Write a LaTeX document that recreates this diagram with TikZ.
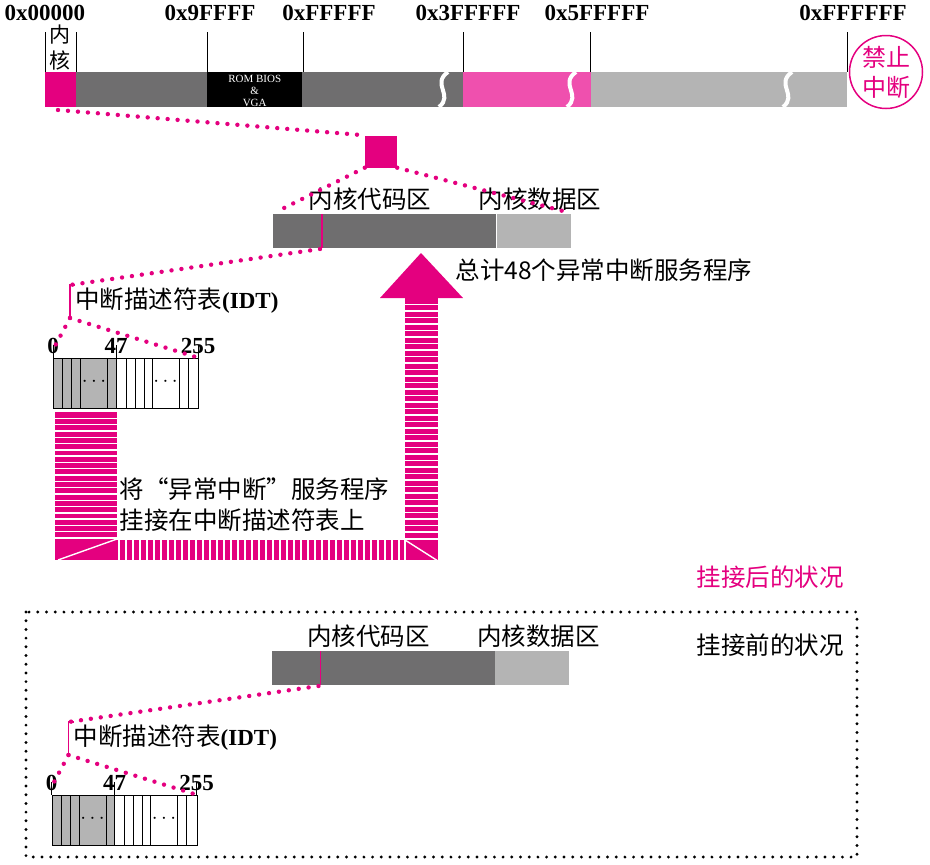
\documentclass[tikz,border=0pt]{standalone}
\usepackage{fontspec}
\setmainfont{Liberation Serif}
\newfontfamily\cjk{Noto Sans CJK SC}
\usetikzlibrary{calc}
\definecolor{mMagenta}{HTML}{E4007F}
\definecolor{mPink}{HTML}{EF50AE}
\definecolor{mDark}{HTML}{6F6E6F}
\definecolor{mLight}{HTML}{B4B4B4}
\tikzset{
  hexlbl/.style={font=\fontsize{23}{25}\selectfont\bfseries},
  cnlbl/.style={font=\fontsize{24.5}{31}\selectfont\cjk},
  numlbl/.style={font=\fontsize{23}{25}\selectfont\bfseries},
  dotline/.style={mMagenta, line width=4.4pt, line cap=round, dash pattern=on 0pt off 10pt},
  memtick/.style={line width=0.8pt},
  stripe/.style={white, line width=1.4pt},
}
\begin{document}
\begin{tikzpicture}[x=1pt, y=-1pt]
  \useasboundingbox (0,0) rectangle (930,865);
  % memory map
  \node[fill=mMagenta, minimum width=31pt, minimum height=35pt, inner sep=0, anchor=north west] (mkern) at (45,72) {};
  \fill[mDark] (76,72) rectangle (207,107);
  \node[fill=black, minimum width=95pt, minimum height=35pt, inner sep=0, anchor=north west] (mrom) at (207,72) {};
  \node[text=white, font=\fontsize{11}{12}\selectfont, align=center, inner sep=0] (romlbl) at ($(mrom.center)+(0,1)$) {ROM BIOS\\\&\\VGA};
  \fill[mDark] (302,72) rectangle (463,107);
  \fill[mPink] (463,72) rectangle (591,107);
  \fill[mLight] (591,72) rectangle (847,107);
  \foreach \bx in {443, 571, 787} {
    \draw[white, line width=4pt] (\bx+5,72) .. controls (\bx-12,84) and (\bx+11,95) .. (\bx-4,107);
  }
  \foreach \x in {45, 76, 207, 303, 463, 590, 847} {
    \draw[memtick] (\x,32) -- (\x,72);
  }
  \foreach \lbl/\x/\nm in {0x00000/45/a, 0x9FFFF/210/b, 0xFFFFF/329/c, 0x3FFFFF/468/d, 0x5FFFFF/597/e, 0xFFFFFF/853/f} {
    \node[hexlbl] (addr\nm) at (\x,13) {\lbl};
  }
  \node[cnlbl, font=\fontsize{21}{26}\selectfont\cjk, align=center, inner sep=0] (kernlbl) at (60,48) {内\\核};
  \node[draw=mMagenta, line width=1.5pt, circle, minimum size=73pt, inner sep=0, text=mMagenta,
        font=\fontsize{24}{30}\selectfont\cjk, align=center] (nointr) at (886,72) {禁止\\中断};

  % kernel zoom
  \node[fill=mMagenta, minimum size=32pt, inner sep=0] (ksq) at (381,151.5) {};
  \coordinate (kbot) at (58,110);
  \draw[dotline] (kbot) -- (ksq.north west);

  % after (upper) and before (lower)
  \foreach \dy/\k in {0/u, 437/l} {
    \begin{scope}[shift={(-1.5*\dy/437,\dy)}]
      \node[fill=mDark, minimum width=223pt, minimum height=34pt, inner sep=0, anchor=north west] (kcode\k) at (273,214) {};
      \node[fill=mLight, minimum width=74pt, minimum height=34pt, inner sep=0, anchor=north west] (kdata\k) at (kcode\k.north east) {};
      \draw[mMagenta, line width=1.6pt] (322,214) -- (322,248);
      \coordinate (entry\k) at (320,249);
      \node[cnlbl] (codelbl\k) at (370,199) {内核代码区};
      \node[cnlbl] (datalbl\k) at (540,199) {内核数据区};
      % IDT
      \coordinate (brtop\k) at (70,285);
      \coordinate (brbot\k) at (70,318);
      \draw[mMagenta, line width=1.2pt] (75,285) -- (brtop\k) -- (brbot\k);
      \node[cnlbl, anchor=west, inner sep=0] (idtlbl\k) at (75,301) {中断描述符表{\fontsize{23}{25}\selectfont\rmfamily\bfseries(IDT)}};
      \fill[mLight] (53,358) rectangle (116,408);
      \foreach \cx in {62.5, 71.5, 80.5, 107.5, 116, 126, 135, 144, 152, 179, 188} {
        \draw[line width=0.9pt] (\cx,358) -- (\cx,408);
      }
      \node[draw, line width=1pt, minimum width=145pt, minimum height=50pt, inner sep=0, anchor=north west] (idt\k) at (53,358) {};
      \node[font=\fontsize{20}{20}\selectfont] (dotsa\k) at (94,382) {$\cdots$};
      \node[font=\fontsize{20}{20}\selectfont] (dotsb\k) at (165.5,382) {$\cdots$};
      \foreach \x/\lbl/\nm in {53/0/n, 116/47/m, 198/255/x} {
        \draw[memtick] (\x,345) -- (\x,358);
        \node[numlbl] (num\nm\k) at (\x,346) {\lbl};
      }
      \draw[dotline] (entry\k) -- (brtop\k);
      \draw[dotline] (brbot\k) -- ($(idt\k.north west)+(2,-12)$);
      \draw[dotline] (brbot\k) -- (idt\k.north east);
    \end{scope}
  }
  \draw[dotline] (ksq.south west) -- ($(kcodeu.north west)+(3,-2)$);
  \draw[dotline] (ksq.south east) -- ($(kdatau.north east)+(-4,-2)$);

  % hooking arrow
  \fill[mMagenta] (55,412) rectangle (117,560);
  \fill[mMagenta] (117,540) rectangle (438,560);
  \fill[mMagenta] (405,298) rectangle (438,560);
  \fill[mMagenta] (380,298) -- (463,298) -- (421,253) -- cycle;
  \foreach \y in {418.3,424.6,...,536} \draw[stripe] (55,\y) -- (117,\y);
  \draw[stripe] (55,538) -- (117,538);
  \foreach \y in {304.5,311,...,536} \draw[stripe] (405,\y) -- (438,\y);
  \draw[stripe] (405,539) -- (438,539);
  \foreach \x in {119,126,...,404} \draw[stripe] (\x,540) -- (\x,560);
  \draw[stripe] (405,540) -- (405,560);
  \draw[stripe] (58,560) -- (117,539);
  \draw[stripe] (405,540) -- (438,561);
  \node[cnlbl, align=left, anchor=west] (hooktxt) at (116,505) {将“异常中断”服务程序\\挂接在中断描述符表上};
  \node[cnlbl, anchor=west] (totaltxt) at (452,270) {总计48个异常中断服务程序};

  % states
  \node[cnlbl, text=mMagenta] (afterlbl) at (770,577) {挂接后的状况};
  \node[cnlbl] (beforelbl) at (770,645) {挂接前的状况};
  \draw[line width=3.2pt, line cap=round, dash pattern=on 0pt off 8.7pt] (26,612) rectangle (857,857);
\end{tikzpicture}
\end{document}
